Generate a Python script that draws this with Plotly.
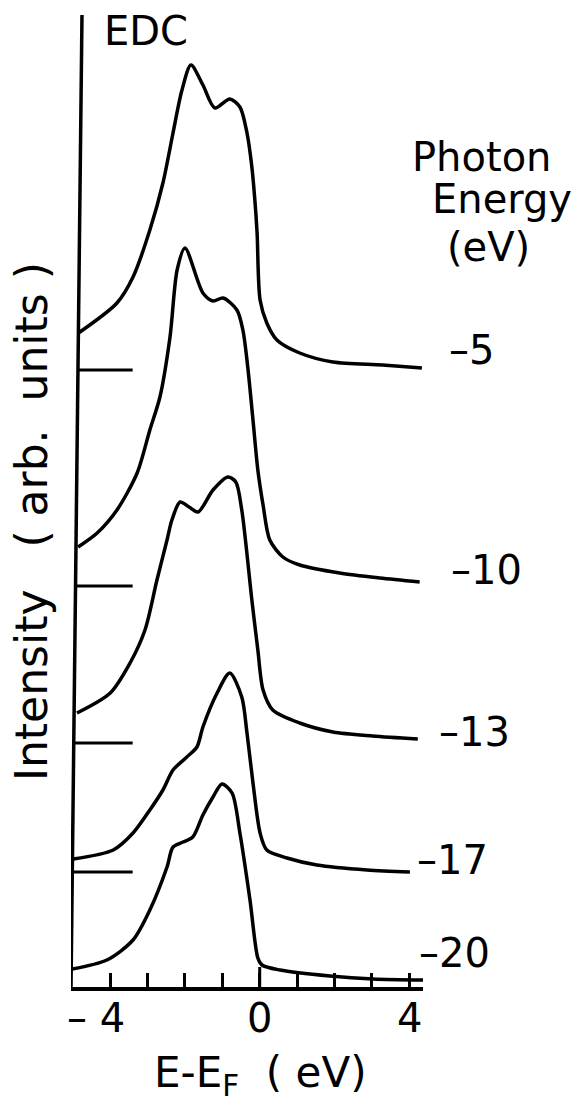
import plotly.graph_objects as go

# Photon energies (eV) labelling each energy distribution curve
photon_energies = [-5, -10, -13, -17, -20]

# E - E_F (eV) and intensity (arb. units) for each photon energy
e_5 = [-4.85, -3.82, -3.39, -2.94, -2.59, -2.32, -2.08, -1.84, -1.52, -1.20, -0.80, -0.53,
       -0.34, -0.21, -0.13, -0.07, 0.01, 0.19, 0.46, 1.07, 1.96, 3.29, 4.34]
i_5 = [0.37, 0.67, 0.93, 1.40, 1.87, 2.37, 2.80, 3.05, 2.85, 2.62, 2.71, 2.63,
       2.37, 2.03, 1.70, 1.37, 0.70, 0.47, 0.30, 0.17, 0.08, 0.05, 0.02]

e_10 = [-4.86, -4.35, -3.82, -3.28, -2.94, -2.67, -2.40, -2.21, -2.00, -1.52, -1.25, -0.98,
        -0.61, -0.45, -0.32, -0.18, -0.05, 0.09, 0.27, 0.62, 1.07, 2.14, 3.21, 4.28]
i_10 = [0.39, 0.53, 0.76, 1.13, 1.56, 1.89, 2.49, 3.16, 3.38, 2.93, 2.85, 2.88,
        2.76, 2.56, 2.19, 1.66, 1.16, 0.81, 0.46, 0.29, 0.21, 0.13, 0.08, 0.04]

e_13 = [-4.89, -4.00, -3.47, -3.07, -2.75, -2.48, -2.35, -2.13, -1.89, -1.65, -1.25, -0.85,
        -0.64, -0.48, -0.21, -0.05, 0.09, 0.35, 1.07, 1.96, 3.02, 4.23]
i_13 = [0.30, 0.50, 0.80, 1.13, 1.63, 2.03, 2.23, 2.41, 2.36, 2.31, 2.53, 2.66,
        2.61, 2.33, 1.43, 0.93, 0.53, 0.33, 0.20, 0.11, 0.07, 0.04]

e_17 = [-4.99, -3.92, -3.39, -2.94, -2.59, -2.32, -1.95, -1.68, -1.52, -1.14, -0.80, -0.48,
        -0.34, -0.18, 0.01, 0.19, 0.73, 1.53, 2.87, 4.02]
i_17 = [0.13, 0.22, 0.39, 0.62, 0.82, 1.02, 1.15, 1.25, 1.45, 1.79, 1.99, 1.75,
        1.39, 0.89, 0.39, 0.22, 0.14, 0.07, 0.02, 0.00]

e_20 = [-5.02, -4.09, -3.39, -2.94, -2.48, -2.32, -2.05, -1.79, -1.52, -1.25, -1.01, -0.74,
        -0.53, -0.26, -0.05, 0.06, 0.54, 1.88, 3.03, 4.37]
i_20 = [0.18, 0.27, 0.47, 0.77, 1.20, 1.40, 1.45, 1.50, 1.72, 1.90, 2.03, 1.94,
        1.54, 0.87, 0.29, 0.22, 0.17, 0.11, 0.08, 0.07]

energies = [e_5, e_10, e_13, e_17, e_20]
intensities = [i_5, i_10, i_13, i_17, i_20]

# vertical stacking of the curves
offsets = [6.17, 4.01, 2.44, 1.15, 0.0]

# energy-axis tick labels
tick_vals = [-4, 0, 4]
tick_text = ["\u2013 4", "0", "4"]

X_RANGE = [-5.05, 4.37]
Y_RANGE = [0, 9.72]
W, H = 579, 1106
ML, MR, MT, MB = 71, 156, 15, 119
FONT = "DejaVu Sans"
INK = "black"


def px(xp):
    return (xp - ML) / (W - ML - MR)


def py(yp):
    return (H - MB - yp) / (H - MB - MT)


# hand-drawn intensity axis leans slightly to the right towards the top
AXIS_LEAN = 0.294


def axis_x(y):
    return X_RANGE[0] + AXIS_LEAN * y / Y_RANGE[1]


fig = go.Figure()
for e, inten, off in zip(energies, intensities, offsets):
    fig.add_trace(go.Scatter(
        x=e, y=[v + off for v in inten], mode="lines",
        line=dict(color=INK, width=3.5, shape="spline", smoothing=0.8),
        cliponaxis=False, showlegend=False, hoverinfo="skip"))

shapes = [dict(type="line", xref="x", yref="y", x0=axis_x(0), y0=0,
               x1=axis_x(Y_RANGE[1]), y1=Y_RANGE[1],
               line=dict(color=INK, width=3.5))]
# zero-intensity marks for the stacked curves
for off in offsets:
    if off > 0:
        shapes.append(dict(type="line", xref="x", yref="y", x0=axis_x(off), x1=-3.4,
                           y0=off, y1=off, line=dict(color=INK, width=3)))
# longer tick at the Fermi level
shapes.append(dict(type="line", xref="x", yref="y", x0=0, x1=0, y0=0, y1=0.2,
                   line=dict(color=INK, width=3)))

annotations = []


def text_at(txt, xp, yp, anchor="center", angle=0, size=40):
    annotations.append(dict(x=px(xp), y=py(yp), xref="paper", yref="paper", text=txt,
                            showarrow=False, xanchor=anchor, yanchor="middle",
                            textangle=angle,
                            font=dict(family=FONT, size=size, color=INK)))


# photon-energy labels at the right-hand end of each curve
label_px = [(450, 350), (452, 570), (440, 732), (418, 860), (420, 953)]
for pe, (lx, ly) in zip(photon_energies, label_px):
    text_at(f"\u2013{abs(pe)}", lx - 3, ly, anchor="left")

# energy tick labels, placed at their tick positions
for v, t in zip(tick_vals, tick_text):
    annotations.append(dict(x=v, y=py(1018), xref="x", yref="paper", text=t,
                            showarrow=False, xanchor="center", yanchor="middle",
                            xshift=-14 if v < 0 else 0,
                            font=dict(family=FONT, size=40, color=INK)))

text_at("EDC", 102, 31, anchor="left")
text_at("Photon", 481, 157)
text_at("Energy", 502, 199)
text_at("(eV)", 488, 247)
text_at("E-E<sub>F</sub>  ( eV)", 260, 1075, size=42)
text_at("Intensity   ( arb.  units )", 31, 522, angle=-90, size=44)

fig.update_layout(
    width=W, height=H, margin=dict(l=ML, r=MR, t=MT, b=MB),
    paper_bgcolor="white", plot_bgcolor="white",
    shapes=shapes, annotations=annotations,
    font=dict(family=FONT, size=40, color=INK),
    xaxis=dict(range=X_RANGE, showgrid=False, zeroline=False,
               showline=True, linecolor=INK, linewidth=3.5,
               ticks="inside", ticklen=14, tickwidth=3, tickcolor=INK,
               tickvals=tick_vals, showticklabels=False,
               minor=dict(tickmode="array", tickvals=[-3, -2, -1, 1, 2, 3],
                          ticks="inside", ticklen=14, tickwidth=3, tickcolor=INK)),
    yaxis=dict(range=Y_RANGE, visible=False),
)

fig.write_html("out.html")
